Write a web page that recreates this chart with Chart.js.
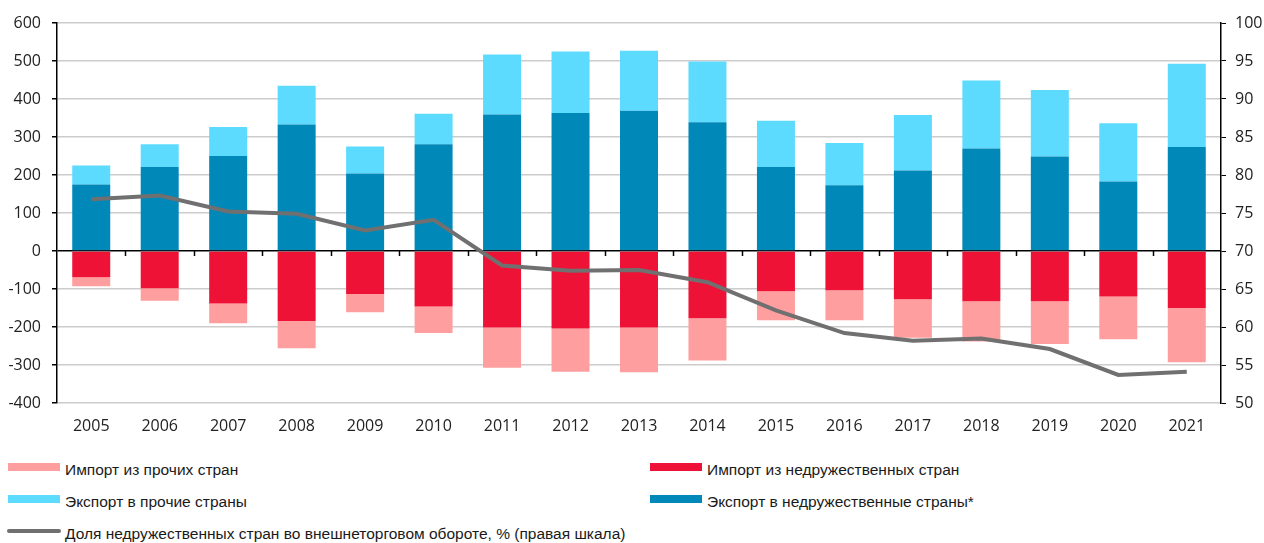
<!DOCTYPE html>
<html lang="ru">
<head>
<meta charset="utf-8">
<script src="https://cdn.jsdelivr.net/npm/chart.js@4"></script>
<style>
    body { margin: 0; background: #fff; width: 1264px; height: 543px; overflow: hidden; position: relative; }
    #wrap { position: absolute; left: 0; top: 0; width: 1264px; height: 440px; }
    .item { position: absolute; font-family: "Liberation Sans", sans-serif; font-size: 15.5px; color: #1a1a1a; white-space: nowrap; line-height: 18px; }
    .sw { position: absolute; width: 52px; height: 8px; }
    .ln { position: absolute; width: 54px; height: 4px; border-radius: 2px; background: #707070; }
</style>
</head>
<body>
<div id="wrap"><canvas id="grafico"></canvas></div>

<div class="sw" style="left:8px;top:463px;background:#ff9e9e"></div>
<div class="item" style="left:65px;top:461px">Импорт из прочих стран</div>
<div class="sw" style="left:650px;top:463px;background:#ee1236"></div>
<div class="item" style="left:707px;top:461px">Импорт из недружественных стран</div>
<div class="sw" style="left:8px;top:495px;background:#5cdbff"></div>
<div class="item" style="left:65px;top:493px">Экспорт в прочие страны</div>
<div class="sw" style="left:650px;top:495px;background:#0088b9"></div>
<div class="item" style="left:707px;top:493px">Экспорт в недружественные страны*</div>
<div class="ln" style="left:7px;top:529px"></div>
<div class="item" style="left:65px;top:525px">Доля недружественных стран во внешнеторговом обороте, % (правая шкала)</div>

<script>
const anos = ['2005', '2006', '2007', '2008', '2009', '2010', '2011', '2012', '2013', '2014', '2015', '2016', '2017', '2018', '2019', '2020', '2021'];

const exportNedruz = [175, 221, 250, 333, 204, 281, 359, 363, 369, 339, 221, 173, 212, 270, 249, 183, 274];
const exportProchie = [50, 60, 76, 102, 71, 80, 158, 162, 158, 160, 122, 111, 146, 179, 175, 153, 219];
const importNedruz = [-69, -98, -138, -184, -113, -146, -201, -204, -201, -177, -106, -103, -127, -132, -132, -120, -150];
const importProchie = [-24, -33, -52, -72, -48, -70, -106, -114, -118, -111, -76, -79, -101, -106, -113, -112, -143];
const dolya = [76.8, 77.3, 75.2, 74.9, 72.7, 74.1, 68.1, 67.4, 67.5, 65.9, 62.2, 59.2, 58.2, 58.5, 57.1, 53.7, 54.1];

const ticksEsq = [-400, 600, 100];
const ticksDir = [50, 100, 5];

// little tick marks on the zero line between categories
const marcasZero = {
    id: 'marcasZero',
    afterDraw(chart) {
        const x = chart.scales.x;
        const y = chart.scales.y;
        const ctx = chart.ctx;
        const y0 = y.getPixelForValue(0);
        const passo = x.getPixelForValue(1) - x.getPixelForValue(0);
        ctx.save();
        ctx.strokeStyle = '#000';
        ctx.lineWidth = 1.5;
        for (let i = 0; i < anos.length - 1; i++) {
            const px = Math.round(x.getPixelForValue(i) + passo / 2) + 0.5;
            ctx.beginPath();
            ctx.moveTo(px, y0);
            ctx.lineTo(px, y0 + 5);
            ctx.stroke();
        }
        ctx.restore();
    }
};

document.addEventListener('DOMContentLoaded', function () {
    const ctx = document.getElementById('grafico').getContext('2d');
    new Chart(ctx, {
        type: 'bar',
        data: {
            labels: anos,
            datasets: [
                {
                    type: 'line',
                    label: 'Доля недружественных стран во внешнеторговом обороте, % (правая шкала)',
                    data: dolya,
                    yAxisID: 'y1',
                    borderColor: '#707070',
                    borderWidth: 4,
                    pointRadius: 0,
                    tension: 0,
                    order: 0
                },
                {
                    label: 'Экспорт в недружественные страны*',
                    data: exportNedruz,
                    backgroundColor: '#0088b9',
                    order: 1
                },
                {
                    label: 'Экспорт в прочие страны',
                    data: exportProchie,
                    backgroundColor: '#5cdbff',
                    order: 1
                },
                {
                    label: 'Импорт из недружественных стран',
                    data: importNedruz,
                    backgroundColor: '#ee1236',
                    order: 1
                },
                {
                    label: 'Импорт из прочих стран',
                    data: importProchie,
                    backgroundColor: '#ff9e9e',
                    order: 1
                }
            ]
        },
        options: {
            responsive: true,
            maintainAspectRatio: false,
            animation: false,
            barPercentage: 0.555,
            categoryPercentage: 1,
            layout: { padding: { top: 23, bottom: 0 } },
            plugins: {
                legend: { display: false },
                tooltip: { enabled: false }
            },
            scales: {
                x: {
                    stacked: true,
                    grid: { display: false },
                    border: { display: false },
                    ticks: {
                        color: '#222',
                        font: { family: 'Open Sans', size: 16 },
                        padding: 6,
                        maxRotation: 0
                    },
                    afterFit(scale) { scale.height = 37; }
                },
                y: {
                    stacked: true,
                    position: 'left',
                    min: ticksEsq[0],
                    max: ticksEsq[1],
                    ticks: {
                        stepSize: ticksEsq[2],
                        color: '#222',
                        font: { family: 'Open Sans', size: 16 },
                        padding: 11
                    },
                    grid: {
                        color: c => c.tick && c.tick.value === 0 ? '#000' : '#cccccc',
                        lineWidth: 1.5,
                        tickColor: '#000',
                        tickLength: 5
                    },
                    border: { color: '#000', width: 1.5 },
                    afterFit(scale) { scale.width = 57; }
                },
                y1: {
                    position: 'right',
                    min: ticksDir[0],
                    max: ticksDir[1],
                    ticks: {
                        stepSize: ticksDir[2],
                        color: '#222',
                        font: { family: 'Open Sans', size: 16 },
                        padding: 9
                    },
                    grid: {
                        drawOnChartArea: false,
                        tickColor: '#000',
                        tickLength: 5
                    },
                    border: { color: '#000', width: 1.5 },
                    afterFit(scale) { scale.width = 43; }
                }
            }
        },
        plugins: [marcasZero]
    });
});
</script>
</body>
</html>
